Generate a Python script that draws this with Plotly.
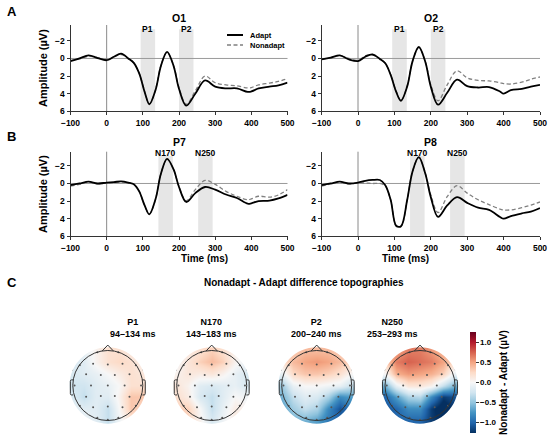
import plotly.graph_objects as go

W, H = 550, 440

# ---------------- ERP waveform data (µV) ----------------
times = [-100, -75, -50, -25, 0, 20, 40, 60, 75, 90, 105, 118, 135, 150, 167,
         185, 200, 220, 245, 272, 300, 330, 360, 390, 400, 420, 450, 475, 500]

o1_adapt = [0.3, 0.0, -0.35, -0.05, 0.2, -0.2, -0.55, 0.0, 0.5, 1.7, 3.8, 5.2, 3.6, 0.85, -0.75,
            0.85, 3.45, 5.35, 4.0, 2.5, 3.2, 3.4, 3.4, 3.8, 3.75, 3.4, 3.2, 3.05, 2.75]
o1_nonadapt = [0.25, 0.05, -0.25, -0.1, 0.15, -0.15, -0.45, 0.05, 0.5, 1.7, 3.75, 5.15, 3.55, 0.8, -0.7,
               0.8, 3.3, 5.2, 3.7, 2.0, 2.75, 3.0, 3.1, 3.35, 3.3, 3.0, 2.8, 2.6, 2.3]

o2_adapt = [0.1, -0.1, -0.35, 0.1, 0.3, -0.2, -0.45, 0.05, 0.55, 1.9, 3.8, 4.8, 3.2, 0.3, -1.3,
            0.4, 3.2, 5.25, 3.9, 2.4, 3.15, 3.3, 3.25, 3.75, 4.0, 3.6, 3.45, 3.2, 3.0]
o2_nonadapt = [0.05, -0.05, -0.3, 0.0, 0.2, -0.3, -0.4, 0.05, 0.55, 1.85, 3.75, 4.75, 3.15, 0.3, -1.25,
               0.35, 3.0, 4.8, 3.0, 1.4, 2.2, 2.5, 2.55, 2.75, 2.85, 2.9, 2.7, 2.35, 2.1]

p7_adapt = [0.2, 0.0, -0.2, 0.0, -0.1, -0.15, -0.25, -0.1, 0.1, 0.9, 2.5, 3.5, 1.8, -1.1, -2.8,
            -1.6, 0.4, 2.1, 1.1, 0.4, 0.7, 1.25, 1.65, 2.3, 2.25, 2.0, 1.95, 1.7, 1.3]
p7_nonadapt = [0.3, 0.1, -0.15, 0.05, -0.05, -0.1, -0.2, -0.05, 0.1, 0.9, 2.5, 3.45, 1.8, -1.1, -2.75,
               -1.6, 0.35, 1.95, 0.7, -0.35, 0.1, 0.9, 1.45, 1.85, 1.75, 1.45, 1.55, 1.3, 0.7]

p8_adapt = [0.2, 0.0, -0.2, 0.0, -0.1, -0.3, -0.4, -0.4, 0.2, 1.9, 4.8, 4.85, 1.9, -1.4, -3.0,
            -1.1, 1.55, 3.8, 2.5, 1.55, 2.2, 2.75, 3.0, 3.8, 4.0, 3.7, 3.4, 3.2, 2.8]
p8_nonadapt = [0.3, 0.05, -0.1, 0.05, -0.05, -0.05, 0.0, 0.0, 0.3, 1.9, 4.85, 4.9, 1.9, -1.4, -2.95,
               -1.15, 1.3, 3.3, 1.5, 0.25, 1.1, 1.85, 2.4, 2.9, 3.0, 3.0, 2.75, 2.45, 2.1]

x_ticks = [-100, 0, 100, 200, 300, 400, 500]
y_ticks = [-2, 0, 2, 4, 6]

# component windows (ms)
win_row_a = [("P1", 94, 134), ("P2", 200, 240)]
win_row_b = [("N170", 143, 183), ("N250", 253, 293)]

# ---------------- Topography data (µV, rows from front/top to back/bottom) ----------------
topo_grid = [-1.0, -0.667, -0.333, 0.0, 0.333, 0.667, 1.0]

topo_p1 = [
    [0.0, -0.1, 0.05, 0.2, 0.2, 0.1, 0.0],
    [-0.2, -0.15, 0.05, 0.2, 0.25, 0.2, 0.05],
    [-0.2, -0.15, -0.1, 0.0, 0.1, 0.2, 0.15],
    [-0.25, -0.25, -0.15, -0.1, 0.0, 0.2, 0.2],
    [-0.2, -0.3, -0.15, -0.15, 0.05, 0.35, 0.35],
    [-0.1, -0.15, -0.15, -0.3, 0.0, 0.35, 0.25],
    [0.0, -0.05, -0.15, -0.3, -0.05, 0.15, 0.05],
]
topo_n170 = [
    [0.0, 0.1, 0.2, 0.3, 0.2, 0.05, 0.0],
    [0.0, 0.15, 0.3, 0.4, 0.3, 0.05, -0.1],
    [0.05, 0.15, 0.1, 0.15, 0.05, -0.1, -0.2],
    [0.15, 0.05, -0.15, -0.2, -0.15, -0.1, -0.2],
    [0.2, 0.1, -0.2, -0.3, -0.15, 0.0, -0.05],
    [0.3, 0.3, 0.0, -0.3, -0.1, 0.1, 0.05],
    [0.15, 0.25, 0.05, -0.2, -0.05, 0.1, 0.0],
]
topo_p2 = [
    [0.2, 0.3, 0.4, 0.4, 0.4, 0.3, 0.2],
    [0.2, 0.4, 0.5, 0.55, 0.5, 0.4, 0.25],
    [-0.1, 0.25, 0.35, 0.35, 0.3, 0.2, 0.0],
    [-0.45, -0.1, 0.0, 0.0, -0.05, -0.1, -0.3],
    [-0.6, -0.3, -0.15, -0.2, -0.4, -0.8, -0.7],
    [-0.7, -0.45, -0.3, -0.4, -0.8, -1.1, -0.9],
    [-0.7, -0.6, -0.6, -0.7, -0.9, -1.0, -0.9],
]
topo_n250 = [
    [0.3, 0.5, 0.65, 0.65, 0.55, 0.4, 0.2],
    [0.3, 0.65, 0.75, 0.7, 0.65, 0.5, 0.2],
    [0.0, 0.45, 0.55, 0.5, 0.45, 0.3, -0.1],
    [-0.6, -0.1, 0.15, 0.15, 0.05, -0.3, -0.6],
    [-1.0, -0.7, -0.4, -0.35, -0.8, -1.2, -1.1],
    [-1.1, -1.0, -0.8, -0.8, -1.2, -1.4, -1.2],
    [-1.0, -1.0, -1.0, -1.0, -1.2, -1.3, -1.1],
]
topo_titles = ["P1<br>94–134 ms", "N170<br>143–183 ms", "P2<br>200–240 ms", "N250<br>253–293 ms"]
cbar_ticks = [-1.0, -0.5, 0.0, 0.5, 1.0]

# electrode positions (head radius = 1)
elec_x = [-0.3, 0.3, -0.8, -0.42, 0.0, 0.42, 0.8, -0.62, -0.2, 0.2, 0.62,
          -0.95, -0.48, 0.0, 0.48, 0.95, -0.62, -0.2, 0.2, 0.62,
          -0.8, -0.42, 0.0, 0.42, 0.8, -0.3, 0.0, 0.3, -1.02, 1.02]
elec_y = [0.95, 0.95, 0.58, 0.62, 0.6, 0.62, 0.58, 0.32, 0.3, 0.3, 0.32,
          0.0, 0.0, 0.0, 0.0, 0.0, -0.32, -0.3, -0.3, -0.32,
          -0.58, -0.62, -0.6, -0.62, -0.58, -0.92, -0.98, -0.92, 0.45, 0.45]

FONT = "Liberation Sans, Arial, sans-serif"
BOLD = "bold"

rdbu_r = [[0.0, "#053061"], [0.1, "#2166ac"], [0.2, "#4393c3"], [0.3, "#92c5de"],
          [0.4, "#d1e5f0"], [0.5, "#f7f7f7"], [0.6, "#fddbc7"], [0.7, "#f4a582"],
          [0.8, "#d6604d"], [0.9, "#b2182b"], [1.0, "#67001f"]]


def fx(p):
    return p / W


def fy(p):
    return 1 - p / H


fig = go.Figure()
layout = dict(width=W, height=H, margin=dict(l=0, r=0, t=0, b=0, pad=0, autoexpand=False),
              paper_bgcolor="white", plot_bgcolor="white", showlegend=False,
              font=dict(family=FONT, color="black"))
shapes = []
annotations = []

panels = [
    ("O1", o1_adapt, o1_nonadapt, (70.5, 287.5), (25.0, 111.3), [6, -3.8], win_row_a, 29),
    ("O2", o2_adapt, o2_nonadapt, (321.6, 540.0), (25.0, 111.3), [6, -3.8], win_row_a, 29),
    ("P7", p7_adapt, p7_nonadapt, (70.5, 287.5), (151.7, 236.3), [6, -3.61], win_row_b, 153),
    ("P8", p8_adapt, p8_nonadapt, (321.6, 540.0), (151.7, 236.3), [6, -3.61], win_row_b, 153),
]

for i, (name, ad, na, xd, yd, yr, wins, lab_y) in enumerate(panels, start=1):
    sfx = "" if i == 1 else str(i)
    xa, ya = "x" + sfx, "y" + sfx
    layout["xaxis" + sfx] = dict(
        domain=[fx(xd[0]), fx(xd[1])], range=[-100, 500], anchor=ya, automargin=False,
        showline=True, linecolor="#333", linewidth=1, ticks="outside", ticklen=3,
        tickcolor="#333", tickvals=x_ticks, showgrid=False, zeroline=False,
        tickfont=dict(size=8.5, weight=BOLD, family=FONT))
    layout["yaxis" + sfx] = dict(
        domain=[fy(yd[1]), fy(yd[0])], range=yr, anchor=xa, automargin=False,
        showline=True, linecolor="#333", linewidth=1, ticks="outside", ticklen=3,
        tickcolor="#333", tickvals=y_ticks, showgrid=False, zeroline=False,
        tickfont=dict(size=8.5, weight=BOLD, family=FONT))
    for lab, t0, t1 in wins:
        shapes.append(dict(type="rect", xref=xa, yref=ya + " domain", x0=t0, x1=t1,
                           y0=0, y1=0.95, fillcolor="#e6e6e6", line=dict(width=0),
                           layer="below"))
        annotations.append(dict(text=lab, xref=xa, x=(t0 + t1) / 2, yref="paper",
                                y=fy(lab_y), showarrow=False, yanchor="middle",
                                font=dict(size=8.5, weight=BOLD)))
    shapes.append(dict(type="line", xref=xa + " domain", yref=ya, x0=0, x1=1, y0=0, y1=0,
                       line=dict(color="#9a9a9a", width=1), layer="below"))
    shapes.append(dict(type="line", xref=xa, yref=ya + " domain", x0=0, x1=0, y0=0, y1=1,
                       line=dict(color="#8a8a8a", width=1), layer="below"))
    fig.add_trace(go.Scatter(x=times, y=na, mode="lines", xaxis=xa, yaxis=ya,
                             line=dict(color="#808080", width=1.3, dash="4px,2.5px",
                                       shape="spline", smoothing=1.0),
                             hoverinfo="skip"))
    fig.add_trace(go.Scatter(x=times, y=ad, mode="lines", xaxis=xa, yaxis=ya,
                             line=dict(color="black", width=1.8, shape="spline", smoothing=1.0),
                             hoverinfo="skip"))
    annotations.append(dict(text=name, xref=xa + " domain", x=0.5, yref="paper",
                            y=fy(lab_y - 11), showarrow=False, yanchor="middle",
                            font=dict(size=10.5, weight=BOLD)))

# y-axis titles and x-axis titles
for yc in (68, 194):
    annotations.append(dict(text="Amplitude (µV)", xref="paper", yref="paper",
                            x=fx(43), y=fy(yc), textangle=-90, showarrow=False,
                            xanchor="center", yanchor="middle",
                            font=dict(size=11, weight=BOLD)))
for xc in (179, 431):
    annotations.append(dict(text="Time (ms)", xref="paper", yref="paper",
                            x=fx(xc), y=fy(258.5), showarrow=False, yanchor="middle",
                            font=dict(size=10, weight=BOLD)))

# panel letters
for letter, yy in (("A", 12), ("B", 136), ("C", 282)):
    annotations.append(dict(text=letter, xref="paper", yref="paper", x=fx(5), y=fy(yy),
                            xanchor="left", yanchor="middle", showarrow=False,
                            font=dict(size=13, weight=BOLD)))

# legend (manual)
shapes.append(dict(type="line", xref="paper", yref="paper", x0=fx(227), x1=fx(243),
                   y0=fy(35), y1=fy(35), line=dict(color="black", width=2)))
shapes.append(dict(type="line", xref="paper", yref="paper", x0=fx(227), x1=fx(243),
                   y0=fy(45), y1=fy(45), line=dict(color="#808080", width=1.3, dash="4px,2.5px")))
for txt, yy in (("Adapt", 35), ("Nonadapt", 45)):
    annotations.append(dict(text=txt, xref="paper", yref="paper", x=fx(248), y=fy(yy),
                            xanchor="left", yanchor="middle", showarrow=False,
                            font=dict(size=7.5, weight=BOLD)))

# section C title
annotations.append(dict(text="Nonadapt - Adapt difference topographies", xref="paper",
                        yref="paper", x=fx(304), y=fy(282), showarrow=False,
                        yanchor="middle", font=dict(size=10, weight=BOLD)))

# ---------------- topographies ----------------
R_DISK = 1.09
S_MASK = 1.35
kk = 0.5523 * R_DISK
mask_path = (f"M {-S_MASK} {-S_MASK} L {S_MASK} {-S_MASK} L {S_MASK} {S_MASK} L {-S_MASK} {S_MASK} Z "
             f"M {R_DISK} 0 C {R_DISK} {kk} {kk} {R_DISK} 0 {R_DISK} "
             f"C {-kk} {R_DISK} {-R_DISK} {kk} {-R_DISK} 0 "
             f"C {-R_DISK} {-kk} {-kk} {-R_DISK} 0 {-R_DISK} "
             f"C {kk} {-R_DISK} {R_DISK} {-kk} {R_DISK} 0 Z")
nose_path = "M -0.16 0.987 L 0 1.155 L 0.16 0.987"
ear_l = "M -0.99 0.16 L -1.04 0.16 Q -1.07 0.16 -1.07 0.12 L -1.07 -0.23 Q -1.07 -0.27 -1.04 -0.27 L -0.99 -0.27"
ear_r = "M 0.99 0.16 L 1.04 0.16 Q 1.07 0.16 1.07 0.12 L 1.07 -0.23 Q 1.07 -0.27 1.04 -0.27 L 0.99 -0.27"

head_cx = [107.8, 211.7, 316.7, 420.0]
head_cy = 385.5
half = 50.0
rng = half / 35.0
topos = [topo_p1, topo_n170, topo_p2, topo_n250]

for j, (cx, zrows, ttl) in enumerate(zip(head_cx, topos, topo_titles)):
    n = 5 + j
    xa, ya = f"x{n}", f"y{n}"
    layout[f"xaxis{n}"] = dict(domain=[fx(cx - half), fx(cx + half)], range=[-rng, rng],
                               anchor=ya, visible=False, automargin=False)
    layout[f"yaxis{n}"] = dict(domain=[fy(head_cy + half), fy(head_cy - half)],
                               range=[-rng, rng], anchor=xa, visible=False, automargin=False)
    hm = dict(x=topo_grid, y=topo_grid, z=zrows[::-1], zsmooth="best",
              colorscale=rdbu_r, zmin=-1.26, zmax=1.26, xaxis=xa, yaxis=ya,
              hoverinfo="skip", showscale=(j == 3))
    if j == 3:
        hm["colorbar"] = dict(
            x=fx(470), xanchor="left", xpad=0, y=fy(382.5), yanchor="middle", ypad=0,
            len=101, lenmode="pixels", thickness=6, outlinewidth=0,
            tickvals=cbar_ticks, ticktext=[f"{v:.1f}".replace("-", "−") for v in cbar_ticks],
            ticks="outside", ticklen=3, tickcolor="#333",
            tickfont=dict(size=8, weight=BOLD, family=FONT),
            title=dict(text="Nonadapt - Adapt (µV)", side="right",
                       font=dict(size=10, weight=BOLD, family=FONT)))
    fig.add_trace(go.Heatmap(**hm))
    fig.add_trace(go.Scatter(x=elec_x, y=elec_y, mode="markers", xaxis=xa, yaxis=ya,
                             marker=dict(size=2, color="#555"), hoverinfo="skip"))
    shapes.append(dict(type="path", xref=xa, yref=ya, path=mask_path, fillrule="evenodd",
                       fillcolor="white", line=dict(width=0), layer="above"))
    shapes.append(dict(type="circle", xref=xa, yref=ya, x0=-1, x1=1, y0=-1, y1=1,
                       line=dict(color="#333", width=1), layer="above"))
    for pth in (nose_path, ear_l, ear_r):
        shapes.append(dict(type="path", xref=xa, yref=ya, path=pth,
                           line=dict(color="#333", width=1), layer="above"))
    annotations.append(dict(text=ttl, xref="paper", yref="paper", x=fx(cx), y=fy(341),
                            yanchor="bottom", showarrow=False,
                            font=dict(size=9, weight=BOLD)))

layout["shapes"] = shapes
layout["annotations"] = annotations
fig.update_layout(**layout)
fig.write_html("out.html", config={"displayModeBar": False},
               post_script="document.body.style.margin='0';document.body.style.padding='0';")
